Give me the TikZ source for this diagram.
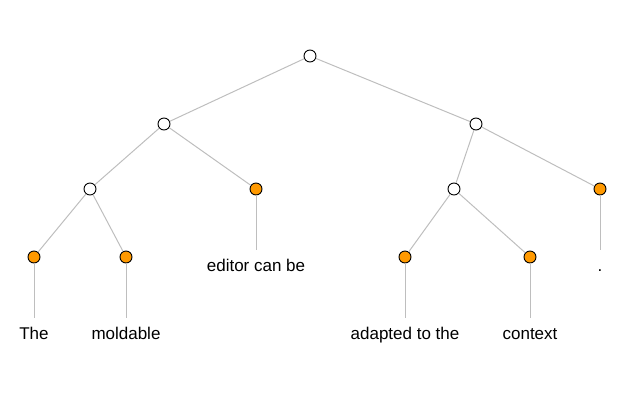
\documentclass[tikz,border=0pt]{standalone}
\usepackage{fontspec}
\setmainfont{Liberation Sans}
\usetikzlibrary{positioning}
\definecolor{leaforange}{HTML}{FF9900}
\definecolor{edgegray}{HTML}{BEBEBE}

\begin{document}
\begin{tikzpicture}[x=1pt, y=-1pt,
  inner/.style={
    % The shape:
    circle,
    minimum size=12pt, inner sep=0pt,
    % The border:
    draw=black, line width=0.9pt,
    % The filling:
    fill=white},
  leaf/.style={inner, fill=leaforange},
  word/.style={
    font=\fontsize{17}{20}\selectfont,
    inner sep=0pt, text height=13pt, anchor=base},
  edge/.style={draw=edgegray, line width=1pt}]

  \useasboundingbox (0,0) rectangle (622,400);

  \node (root) [inner] at (310,56) {};
  \node (l) [inner] at (164,124) {};
  \node (r) [inner] at (476,124) {};

  \node (ll) [inner] at (90,189) {};
  \node (lr) [leaf] at (256,189) {};
  \node (rl) [inner] at (454,189) {};
  \node (rr) [leaf] at (600,189) {};

  \node (lll) [leaf] at (34,257) {};
  \node (llr) [leaf] at (126,257) {};
  \node (rll) [leaf] at (405,257) {};
  \node (rlr) [leaf] at (530,257) {};

  % the words
  \node (w1) [word] at (34,339) {The};
  \node (w2) [word] at (126,339) {moldable};
  \node (w3) [word] at (256,271) {editor can be};
  \node (w4) [word] at (405,339) {adapted to the};
  \node (w5) [word] at (530,339) {context};
  \node (w6) [word] at (600,271) {.};

  \draw[edge] (root) -- (l);
  \draw[edge] (root) -- (r);
  \draw[edge] (l) -- (ll);
  \draw[edge] (l) -- (lr);
  \draw[edge] (r) -- (rl);
  \draw[edge] (r) -- (rr);
  \draw[edge] (ll) -- (lll);
  \draw[edge] (ll) -- (llr);
  \draw[edge] (rl) -- (rll);
  \draw[edge] (rl) -- (rlr);

  \draw[edge, shorten >=8pt] (lll) -- (w1.north);
  \draw[edge, shorten >=8pt] (llr) -- (w2.north);
  \draw[edge, shorten >=8pt] (lr) -- (w3.north);
  \draw[edge, shorten >=8pt] (rll) -- (w4.north);
  \draw[edge, shorten >=8pt] (rlr) -- (w5.north);
  \draw[edge, shorten >=8pt] (rr) -- (w6.north);
\end{tikzpicture}
\end{document}
